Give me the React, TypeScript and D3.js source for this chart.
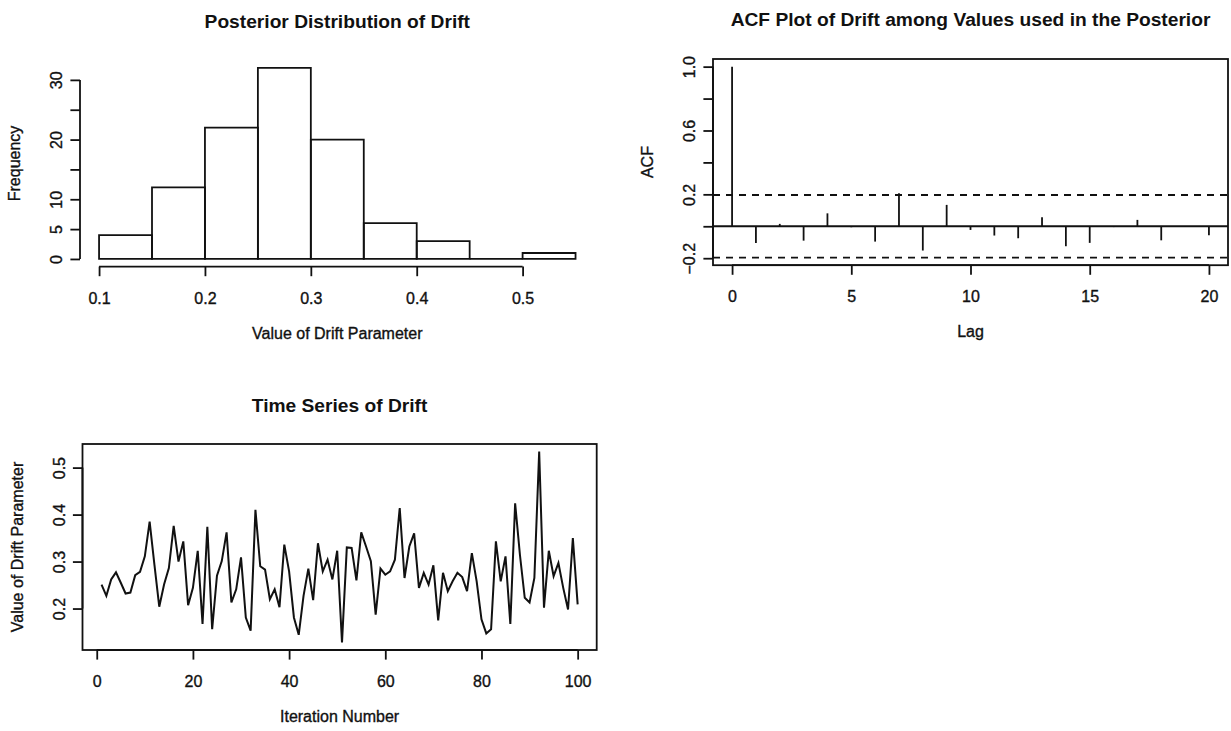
import React, { useEffect, useRef } from "react";
import * as d3 from "d3";

// ---- data ----
const histBreaks = [0.1, 0.15, 0.2, 0.25, 0.3, 0.35, 0.4, 0.45, 0.5, 0.55];
const histCounts = [4, 12, 22, 32, 20, 6, 3, 0, 1];
const histXTicks = [0.1, 0.2, 0.3, 0.4, 0.5];
const histYTicks = [0, 5, 10, 15, 20, 25, 30];
const histYLabels = ["0", "5", "10", "", "20", "", "30"];

const acfLags = [0, 1, 2, 3, 4, 5, 6, 7, 8, 9, 10, 11, 12, 13, 14, 15, 16, 17, 18, 19, 20];
const acfValues = [1, -0.104, 0.015, -0.09, 0.081, -0.006, -0.096, 0.207, -0.152, 0.134, -0.023,
  -0.058, -0.075, 0.056, -0.125, -0.104, -0.005, 0.04, -0.088, -0.004, -0.056];
const acfBound = 0.196;
const acfXTicks = [0, 5, 10, 15, 20];
const acfYTicks = [-0.2, 0, 0.2, 0.4, 0.6, 0.8, 1.0];
const acfYLabels = ["\u22120.2", "", "0.2", "", "0.6", "", "1.0"];

const drift = [
  0.251, 0.227, 0.262, 0.277, 0.255, 0.232, 0.234, 0.271, 0.278, 0.311,
  0.385, 0.293, 0.204, 0.251, 0.286, 0.376, 0.300, 0.343, 0.207, 0.244,
  0.323, 0.167, 0.374, 0.156, 0.270, 0.301, 0.362, 0.213, 0.241, 0.309,
  0.181, 0.153, 0.410, 0.290, 0.283, 0.220, 0.241, 0.203, 0.336, 0.279,
  0.181, 0.144, 0.227, 0.285, 0.218, 0.339, 0.279, 0.304, 0.262, 0.323,
  0.128, 0.330, 0.329, 0.260, 0.362, 0.332, 0.301, 0.187, 0.285, 0.272,
  0.279, 0.304, 0.414, 0.265, 0.332, 0.360, 0.244, 0.276, 0.251, 0.292,
  0.175, 0.276, 0.237, 0.258, 0.276, 0.267, 0.237, 0.318, 0.258, 0.177,
  0.147, 0.156, 0.343, 0.258, 0.311, 0.167, 0.424, 0.314, 0.223, 0.213,
  0.265, 0.534, 0.202, 0.323, 0.269, 0.297, 0.244, 0.198, 0.350, 0.209
];
const seriesXTicks = [0, 20, 40, 60, 80, 100];
const seriesYTicks = [0.2, 0.3, 0.4, 0.5];

const W = 1231;
const H = 731;
const FONT = "'Liberation Sans', Arial, Helvetica, sans-serif";
const TICK = 9.6;
const INK = "#111";

// R style: extend the data range by 4% on each side
function pad(ext) {
  const d = (ext[1] - ext[0]) * 0.04;
  return [ext[0] - d, ext[1] + d];
}

// scanned print looks a little heavy, so give regular text a hairline outline
function ink(sel) {
  return sel.attr("fill", INK).attr("stroke", INK).attr("stroke-width", 0.35);
}

function text(g, x, y, str, size, opts = {}) {
  const t = g.append("text")
    .attr("x", x)
    .attr("y", y)
    .attr("text-anchor", "middle")
    .style("font-family", FONT)
    .style("font-size", size + "px")
    .style("font-weight", opts.bold ? "bold" : "normal")
    .text(str);
  if (opts.bold) t.attr("fill", INK);
  else ink(t);
  if (opts.rotate) t.attr("transform", `rotate(-90,${x},${y})`);
  return t;
}

function bottomAxis(g, scale, ticks, labels, yPos) {
  const ax = g.append("g")
    .attr("transform", `translate(0,${yPos})`)
    .call(d3.axisBottom(scale).tickValues(ticks).tickSize(TICK).tickPadding(0)
      .tickFormat((d, i) => labels[i]));
  ax.select(".domain").attr("d", `M${scale(ticks[0])},0H${scale(ticks[ticks.length - 1])}`)
    .attr("stroke", INK).attr("stroke-width", 1.8);
  ax.selectAll(".tick line").attr("stroke", INK).attr("stroke-width", 1.8);
  ink(ax.selectAll(".tick text"))
    .attr("y", 37).attr("dy", null)
    .style("font-family", FONT).style("font-size", "16px");
  ax.attr("font-family", null).attr("font-size", null);
}

function leftAxis(g, scale, ticks, labels, xPos) {
  const ax = g.append("g")
    .attr("transform", `translate(${xPos},0)`)
    .call(d3.axisLeft(scale).tickValues(ticks).tickSize(TICK).tickPadding(0)
      .tickFormat((d, i) => labels[i]));
  ax.select(".domain").attr("d", `M0,${scale(ticks[0])}V${scale(ticks[ticks.length - 1])}`)
    .attr("stroke", INK).attr("stroke-width", 1.8);
  ax.selectAll(".tick line").attr("stroke", INK).attr("stroke-width", 1.8);
  ink(ax.selectAll(".tick text"))
    .attr("x", null).attr("dy", null)
    .attr("text-anchor", "middle")
    .attr("transform", "translate(-18,0) rotate(-90)")
    .style("font-family", FONT).style("font-size", "16px");
  ax.attr("font-family", null).attr("font-size", null);
}

function drawHist(svg) {
  const box = { x0: 80, x1: 594.6, y0: 60.3, y1: 266.6 };
  const g = svg.append("g");
  const x = d3.scaleLinear()
    .domain(pad([histBreaks[0], histBreaks[histBreaks.length - 1]]))
    .range([box.x0, box.x1]);
  const y = d3.scaleLinear()
    .domain(pad([0, d3.max(histCounts)]))
    .range([box.y1, box.y0]);

  g.selectAll("path.bar")
    .data(histCounts)
    .enter()
    .append("path")
    .attr("class", "bar")
    .attr("d", (d, i) => {
      const a = x(histBreaks[i]), b = x(histBreaks[i + 1]);
      return `M${a},${y(0)}V${y(d)}H${b}V${y(0)}Z`;
    })
    .attr("fill", "none")
    .attr("stroke", INK)
    .attr("stroke-width", 1.8);

  bottomAxis(g, x, histXTicks, histXTicks.map(d => d3.format(".1f")(d)), box.y1);
  leftAxis(g, y, histYTicks, histYLabels, box.x0);

  const cx = (box.x0 + box.x1) / 2;
  text(g, cx, 28, "Posterior Distribution of Drift", 19.2, { bold: true });
  text(g, cx, box.y1 + 72, "Value of Drift Parameter", 16);
  text(g, box.x0 - 60, (box.y0 + box.y1) / 2, "Frequency", 16, { rotate: true });
}

function drawAcf(svg) {
  const box = { x0: 713, x1: 1228, y0: 59, y1: 265.2 };
  const g = svg.append("g");
  const x = d3.scaleLinear()
    .domain(pad(d3.extent(acfLags)))
    .range([box.x0, box.x1]);
  const y = d3.scaleLinear()
    .domain(pad([Math.min(-acfBound, d3.min(acfValues)), Math.max(acfBound, d3.max(acfValues))]))
    .range([box.y1, box.y0]);

  g.append("rect")
    .attr("x", box.x0).attr("y", box.y0)
    .attr("width", box.x1 - box.x0).attr("height", box.y1 - box.y0)
    .attr("fill", "none").attr("stroke", INK).attr("stroke-width", 1.8);

  g.append("line")
    .attr("x1", box.x0).attr("x2", box.x1)
    .attr("y1", y(0)).attr("y2", y(0))
    .attr("stroke", INK).attr("stroke-width", 1.8);

  [acfBound, -acfBound].forEach(b => {
    g.append("line")
      .attr("x1", box.x0).attr("x2", box.x1)
      .attr("y1", y(b)).attr("y2", y(b))
      .attr("stroke", INK).attr("stroke-width", 1.8)
      .attr("stroke-dasharray", "7,6");
  });

  g.selectAll("line.spike")
    .data(acfValues)
    .enter()
    .append("line")
    .attr("class", "spike")
    .attr("x1", (d, i) => x(acfLags[i])).attr("x2", (d, i) => x(acfLags[i]))
    .attr("y1", y(0)).attr("y2", d => y(d))
    .attr("stroke", INK).attr("stroke-width", 1.8);

  bottomAxis(g, x, acfXTicks, acfXTicks.map(String), box.y1);
  leftAxis(g, y, acfYTicks, acfYLabels, box.x0);

  const cx = (box.x0 + box.x1) / 2;
  text(g, cx, 26, "ACF Plot of Drift among Values used in the Posterior", 19.2, { bold: true });
  text(g, cx, box.y1 + 72, "Lag", 16);
  text(g, box.x0 - 60, (box.y0 + box.y1) / 2, "ACF", 16, { rotate: true });
}

function drawSeries(svg) {
  const box = { x0: 82.5, x1: 596.7, y0: 444, y1: 650 };
  const g = svg.append("g");
  const iters = drift.map((d, i) => i + 1);
  const x = d3.scaleLinear()
    .domain(pad(d3.extent(iters)))
    .range([box.x0, box.x1]);
  const y = d3.scaleLinear()
    .domain(pad(d3.extent(drift)))
    .range([box.y1, box.y0]);

  g.append("rect")
    .attr("x", box.x0).attr("y", box.y0)
    .attr("width", box.x1 - box.x0).attr("height", box.y1 - box.y0)
    .attr("fill", "none").attr("stroke", INK).attr("stroke-width", 1.8);

  const line = d3.line()
    .x((d, i) => x(iters[i]))
    .y(d => y(d));

  g.append("path")
    .datum(drift)
    .attr("d", line)
    .attr("fill", "none")
    .attr("stroke", INK)
    .attr("stroke-width", 2)
    .attr("stroke-linejoin", "miter");

  bottomAxis(g, x, seriesXTicks, seriesXTicks.map(String), box.y1);
  leftAxis(g, y, seriesYTicks, seriesYTicks.map(d => d3.format(".1f")(d)), box.x0);

  const cx = (box.x0 + box.x1) / 2;
  text(g, cx, 412, "Time Series of Drift", 19.2, { bold: true });
  text(g, cx, box.y1 + 72, "Iteration Number", 16);
  text(g, box.x0 - 60, (box.y0 + box.y1) / 2, "Value of Drift Parameter", 16, { rotate: true });
}

export default function App() {
  const ref = useRef(null);

  useEffect(() => {
    const svg = d3.select(ref.current);
    svg.selectAll("*").remove();
    svg.append("rect").attr("width", W).attr("height", H).attr("fill", "#fff");
    drawHist(svg);
    drawAcf(svg);
    drawSeries(svg);
  }, []);

  return (
    <svg
      ref={ref}
      width={W}
      height={H}
      style={{ position: "absolute", left: 0, top: 0, display: "block" }}
    />
  );
}
